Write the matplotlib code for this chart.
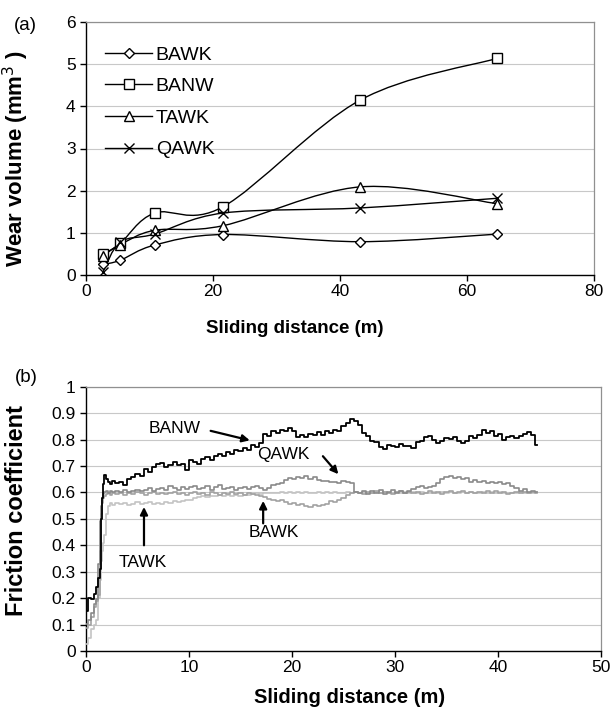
import numpy as np
import matplotlib
matplotlib.use("Agg")
import matplotlib.pyplot as plt
from matplotlib.path import Path
from matplotlib.patches import PathPatch
from matplotlib.lines import Line2D
from matplotlib.ticker import FuncFormatter

plt.rcParams['font.family'] = ['Liberation Sans', 'DejaVu Sans']

# ---- (a) wear volume vs sliding distance ----
dist_a = [2.7, 5.4, 10.8, 21.6, 43.2, 64.8]
wear = {
    'BAWK': [0.25, 0.35, 0.71, 0.96, 0.79, 0.97],
    'BANW': [0.49, 0.75, 1.47, 1.62, 4.15, 5.14],
    'TAWK': [0.46, 0.72, 1.06, 1.17, 2.09, 1.69],
    'QAWK': [0.08, 0.78, 0.97, 1.47, 1.59, 1.82],
}
markers = {'BAWK': ('D', 5.5), 'BANW': ('s', 6.5), 'TAWK': ('^', 7), 'QAWK': ('x', 7)}

# ---- (b) friction coefficient vs sliding distance ----
dist_start = [0, 0.3, 0.6, 0.9, 1.1, 1.3, 1.4, 1.5, 1.6, 1.7, 1.8, 2.0, 2.2, 2.4, 2.7, 3.0]
dist_b = np.concatenate([dist_start, np.round(3.4 + 0.4 * np.arange(102), 1)])

banw = [0.152, 0.201, 0.198, 0.215, 0.243, 0.275, 0.31, 0.50, 0.58, 0.63, 0.665, 0.652, 0.641, 0.633, 0.645, 0.634,
        0.641, 0.628, 0.652, 0.660, 0.671, 0.664, 0.688, 0.676, 0.695, 0.706,
        0.712, 0.698, 0.705, 0.716, 0.702, 0.709, 0.684, 0.722, 0.715, 0.707,
        0.726, 0.733, 0.721, 0.738, 0.745, 0.737, 0.752, 0.744, 0.761, 0.755,
        0.768, 0.762, 0.779, 0.771, 0.788, 0.822, 0.815, 0.831, 0.826, 0.838,
        0.833, 0.845, 0.832, 0.811, 0.818, 0.808, 0.821, 0.816, 0.827, 0.819,
        0.831, 0.825, 0.838, 0.833, 0.851, 0.862, 0.878, 0.869, 0.856, 0.826,
        0.812, 0.796, 0.789, 0.771, 0.764, 0.781, 0.776, 0.772, 0.783, 0.774,
        0.777, 0.768, 0.789, 0.794, 0.808, 0.813, 0.798, 0.787, 0.795, 0.806,
        0.801, 0.809, 0.793, 0.788, 0.796, 0.812, 0.806, 0.817, 0.838, 0.824,
        0.831, 0.815, 0.821, 0.797, 0.808, 0.814, 0.806, 0.812, 0.822, 0.827,
        0.818, 0.781]
qawk = [0.102, 0.118, 0.142, 0.176, 0.196, 0.33, 0.49, 0.55, 0.58, 0.595, 0.602, 0.605, 0.598, 0.604, 0.601, 0.607,
        0.603, 0.608, 0.601, 0.606, 0.611, 0.604, 0.609, 0.615, 0.607, 0.613,
        0.618, 0.611, 0.623, 0.616, 0.609, 0.621, 0.614, 0.619, 0.626, 0.612,
        0.617, 0.624, 0.611, 0.619, 0.627, 0.613, 0.618, 0.622, 0.609, 0.617,
        0.621, 0.612, 0.619, 0.624, 0.616, 0.611, 0.618, 0.627, 0.631, 0.634,
        0.648, 0.656, 0.651, 0.659, 0.654, 0.661, 0.652, 0.657, 0.648, 0.642,
        0.645, 0.638, 0.641, 0.636, 0.643, 0.639, 0.637, 0.601, 0.596, 0.604,
        0.593, 0.606, 0.598, 0.609, 0.594, 0.603, 0.611, 0.597, 0.605, 0.599,
        0.607, 0.612, 0.619, 0.623, 0.615, 0.621, 0.626, 0.634, 0.652, 0.657,
        0.661, 0.653, 0.658, 0.649, 0.654, 0.641, 0.646, 0.638, 0.643, 0.636,
        0.641, 0.635, 0.639, 0.632, 0.637, 0.624, 0.618, 0.605, 0.612, 0.601,
        0.607, 0.603]
bawk = [0.088, 0.097, 0.128, 0.165, 0.188, 0.21, 0.38, 0.52, 0.56, 0.578, 0.588, 0.594, 0.597, 0.591, 0.598, 0.593,
        0.596, 0.592, 0.599, 0.594, 0.601, 0.596, 0.591, 0.598, 0.603, 0.595,
        0.599, 0.593, 0.597, 0.602, 0.594, 0.599, 0.591, 0.596, 0.601, 0.594,
        0.598, 0.592, 0.603, 0.596, 0.591, 0.599, 0.594, 0.600, 0.593, 0.597,
        0.592, 0.598, 0.594, 0.589, 0.586, 0.581, 0.576, 0.572, 0.568, 0.571,
        0.564, 0.557, 0.561, 0.553, 0.556, 0.549, 0.545, 0.551, 0.547, 0.552,
        0.558, 0.567, 0.563, 0.572, 0.579, 0.591, 0.596, 0.603, 0.598, 0.594,
        0.601, 0.597, 0.604, 0.596, 0.602, 0.598, 0.593, 0.600, 0.605, 0.597,
        0.603, 0.596, 0.601, 0.594, 0.599, 0.606, 0.598, 0.602, 0.595, 0.600,
        0.604, 0.597, 0.601, 0.607, 0.599, 0.603, 0.596, 0.601, 0.598, 0.604,
        0.599, 0.605, 0.597, 0.602, 0.594, 0.599, 0.603, 0.596, 0.601, 0.597,
        0.602, 0.598]
tawk = [0.025, 0.048, 0.085, 0.10, 0.118, 0.20, 0.27, 0.34, 0.38, 0.41, 0.44, 0.52, 0.55, 0.56, 0.552, 0.559,
        0.556, 0.561, 0.553, 0.558, 0.562, 0.555, 0.559, 0.563, 0.557, 0.561,
        0.558, 0.564, 0.560, 0.566, 0.562, 0.568, 0.573, 0.571, 0.577, 0.582,
        0.586, 0.583, 0.588, 0.585, 0.589, 0.586, 0.591, 0.588, 0.590, 0.587,
        0.591, 0.589, 0.593, 0.596, 0.594, 0.598, 0.596, 0.599, 0.597, 0.600,
        0.598, 0.601, 0.597, 0.600, 0.598, 0.602, 0.599, 0.597, 0.600, 0.598,
        0.601, 0.598, 0.600, 0.597, 0.599, 0.602, 0.598, 0.600, 0.597, 0.601,
        0.599, 0.597, 0.600, 0.598, 0.602, 0.599, 0.597, 0.601, 0.598, 0.600,
        0.597, 0.600, 0.598, 0.601, 0.599, 0.596, 0.600, 0.598, 0.601, 0.599,
        0.600, 0.597, 0.599, 0.602, 0.598, 0.600, 0.597, 0.599, 0.601, 0.598,
        0.600, 0.598, 0.601, 0.597, 0.599, 0.596, 0.598, 0.600, 0.597, 0.599,
        0.598, 0.600]


def smooth_path(x, y):
    # Excel-like smoothed line: Catmull-Rom segments as cubic Beziers
    pts = np.column_stack([x, y]).astype(float)
    n = len(pts)
    verts = [pts[0]]
    codes = [Path.MOVETO]
    for i in range(n - 1):
        p0 = pts[max(i - 1, 0)]
        p1 = pts[i]
        p2 = pts[i + 1]
        p3 = pts[min(i + 2, n - 1)]
        verts += [p1 + (p2 - p0) / 6, p2 - (p3 - p1) / 6, p2]
        codes += [Path.CURVE4] * 3
    return Path(verts, codes)


def style_axes(ax):
    ax.grid(axis='y', color='#c8c8c8', lw=0.8)
    ax.set_axisbelow(True)
    for s in ['top', 'right']:
        ax.spines[s].set_color('#909090')
        ax.spines[s].set_linewidth(0.9)
    for s in ['left', 'bottom']:
        ax.spines[s].set_color('black')
        ax.spines[s].set_linewidth(1.0)
    ax.tick_params(direction='out', length=4.5, width=1, labelsize=12.5,
                   top=False, right=False, color='black')
    ax.tick_params(axis='y', pad=3)
    ax.tick_params(axis='x', pad=2)


fig = plt.figure(figsize=(6.12, 7.10), dpi=100)

# panel (a)
ax1 = fig.add_axes([86 / 612, 435 / 710, 508 / 612, 253 / 710])
style_axes(ax1)
handles = []
for name, vals in wear.items():
    ax1.add_patch(PathPatch(smooth_path(dist_a, vals), fill=False, lw=1.0, ec='black', zorder=3))
    m, ms = markers[name]
    ax1.plot(dist_a, vals, ls='none', marker=m, ms=ms, mfc='white', mec='black', mew=1.0, zorder=4)
    handles.append(Line2D([], [], color='black', lw=1.0, marker=m, ms=ms, mfc='white', mec='black', mew=1.0))
ax1.set_xlim(0, 80)
ax1.set_ylim(0, 6)
ax1.set_xticks([0, 20, 40, 60, 80])
ax1.set_yticks(range(7))
ax1.legend(handles, list(wear.keys()), loc='upper left', bbox_to_anchor=(0.038, 0.905),
           frameon=False, fontsize=14, handlelength=2.4, handletextpad=0.2,
           labelspacing=0.72, borderpad=0, borderaxespad=0)
ax1.set_xlabel('Sliding distance (m)', fontsize=13.5, fontweight='bold')
ax1.xaxis.set_label_coords((295 - 86) / 508, -0.178)
ax1.set_ylabel('Wear volume (mm$^3$ )', fontsize=16, fontweight='bold')
ax1.yaxis.set_label_coords(-0.108, 0.462)
fig.text(25 / 612, 1 - 25 / 710, '(a)', fontsize=13.5, ha='center', va='center')

# panel (b)
ax2 = fig.add_axes([86 / 612, 59 / 710, 515 / 612, 264.3 / 710])
style_axes(ax2)
ax2.plot(dist_b, tawk, color='#c4c4c4', lw=1.2, drawstyle='steps-mid', zorder=3)
ax2.plot(dist_b, bawk, color='#a2a2a2', lw=1.2, drawstyle='steps-mid', zorder=3)
ax2.plot(dist_b, qawk, color='#8a8a8a', lw=1.2, drawstyle='steps-mid', zorder=3)
ax2.plot(dist_b, banw, color='black', lw=1.3, drawstyle='steps-mid', zorder=4)
ax2.set_xlim(0, 50)
ax2.set_ylim(0, 1)
ax2.set_xticks([0, 10, 20, 30, 40, 50])
ax2.set_yticks(np.round(np.arange(0, 1.01, 0.1), 1))
ax2.yaxis.set_major_formatter(FuncFormatter(lambda v, p: '%g' % v))
ax2.set_xlabel('Sliding distance (m)', fontsize=14.5, fontweight='bold')
ax2.xaxis.set_label_coords((350 - 86) / 515, -0.14)
ax2.set_ylabel('Friction coefficient', fontsize=17, fontweight='bold')
ax2.yaxis.set_label_coords(-0.113, 0.531)
fig.text(26 / 612, 1 - 378 / 710, '(b)', fontsize=13.5, ha='center', va='center')

arrow = dict(arrowstyle='-|>', color='black', lw=1.6, mutation_scale=11, shrinkA=0, shrinkB=0)
labels_b = [('BANW', (8.6, 0.84), (12.1, 0.833), (15.9, 0.797)),
            ('QAWK', (19.2, 0.745), (23.0, 0.737), (24.5, 0.669)),
            ('BAWK', (18.2, 0.448), (17.2, 0.483), (17.2, 0.568)),
            ('TAWK', (5.5, 0.333), (5.63, 0.40), (5.63, 0.545))]
for txt, tpos, tail, head in labels_b:
    ax2.text(tpos[0], tpos[1], txt, fontsize=12.5, ha='center', va='center', zorder=6)
    ax2.annotate('', xy=head, xytext=tail, arrowprops=arrow, zorder=6)

fig.savefig('out.png', dpi=100)
